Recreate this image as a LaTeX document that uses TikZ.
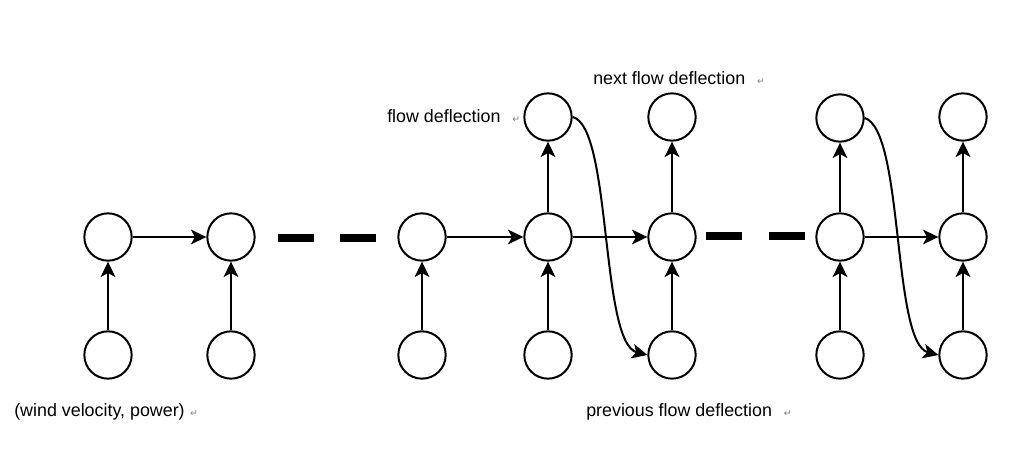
\documentclass[tikz,border=0pt]{standalone}
\usepackage{fontspec}
\setmainfont{Liberation Sans}
\newfontfamily\dvfont{DejaVu Sans}
\usetikzlibrary{arrows.meta}
\newcommand{\retmark}{{\dvfont\fontsize{7}{8}\selectfont\color{gray}\symbol{"21B5}}}
\begin{document}
\begin{tikzpicture}[x=0.75pt,y=-0.75pt,
  cnode/.style={circle,draw,line width=1.5pt,minimum size=35.5pt,inner sep=0pt},
  conn/.style={line width=1.5pt,-{Stealth[length=11.5pt,width=11pt,inset=3pt]}},
  thickdash/.style={line width=6pt},
  lbl/.style={anchor=west,inner sep=0pt,font=\fontsize{13.4}{16}\selectfont}]
\useasboundingbox (0,0) rectangle (1032,449);
% columns
\foreach \n/\x in {a/108,b/231,c/422,d/548,e/672,f/840,g/963}{
  \node[cnode] (m\n) at (\x,237) {};
  \node[cnode] (b\n) at (\x,355) {};
}
\foreach \n/\x/\y in {d/548/117,e/672/117,f/840/118,g/963/117}{
  \node[cnode] (t\n) at (\x,\y) {};
}
% bottom to middle
\foreach \n in {a,b,c,d,e,f,g}{
  \draw[conn] (b\n) -- (m\n);
}
% middle to top
\foreach \n in {d,e,f,g}{
  \draw[conn] (m\n) -- (t\n);
}
% horizontal
\draw[conn] (ma) -- (mb);
\draw[conn] (mc) -- (md);
\draw[conn] (md) -- (me);
\draw[conn] (mf) -- (mg);
% thick dashes
\coordinate (d1a) at (278,238); \coordinate (d1b) at (314,238);
\coordinate (d2a) at (340,238); \coordinate (d2b) at (376,238);
\coordinate (d3a) at (706,236); \coordinate (d3b) at (742,236);
\coordinate (d4a) at (769,236); \coordinate (d4b) at (805,236);
\draw[thickdash] (d1a) -- (d1b);
\draw[thickdash] (d2a) -- (d2b);
\draw[thickdash] (d3a) -- (d3b);
\draw[thickdash] (d4a) -- (d4b);
% curves
\draw[conn] (td.east) .. controls (612,127) and (600,343) .. (be.west);
\draw[conn] (tf.east) .. controls (904,130) and (892,343) .. (bg.west);
% labels
\node[lbl] (l1) at (387,116) {flow deflection\hspace{9pt}\retmark};
\node[lbl] (l2) at (593,78) {next flow deflection\hspace{9pt}\retmark};
\node[lbl] (l3) at (14,412) {(wind velocity, power)\hspace{4pt}\retmark};
\node[lbl] (l4) at (586,412) {previous flow deflection\hspace{9pt}\retmark};
\end{tikzpicture}
\end{document}
